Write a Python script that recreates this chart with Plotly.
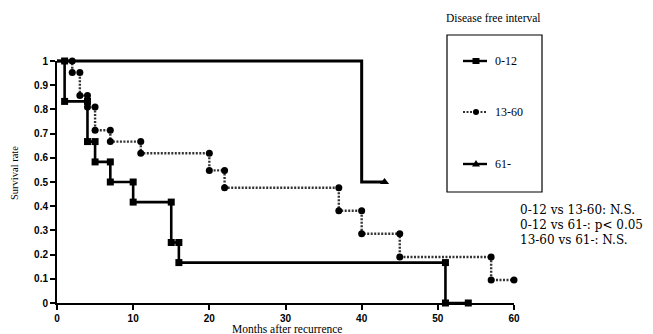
import plotly.graph_objects as go

# ---- data (Kaplan-Meier step vertices) ----
g1_name = "0-12"
g1_x = [0, 1, 1, 4, 4, 5, 5, 7, 7, 10, 10, 15, 15, 16, 16, 51, 51, 54]
g1_y = [1, 1, 0.833, 0.833, 0.667, 0.667, 0.583, 0.583, 0.5, 0.5, 0.417, 0.417, 0.25, 0.25, 0.167, 0.167, 0, 0]

g2_name = "13-60"
g2_x = [0, 2, 2, 3, 3, 4, 4, 5, 5, 7, 7, 11, 11, 20, 20, 22, 22, 37, 37, 40, 40, 45, 45, 57, 57, 60]
g2_y = [1, 1, 0.952, 0.952, 0.857, 0.857, 0.81, 0.81, 0.714, 0.714, 0.667, 0.667, 0.619, 0.619, 0.548, 0.548,
        0.476, 0.476, 0.381, 0.381, 0.286, 0.286, 0.19, 0.19, 0.095, 0.095]

g3_name = "61-"
g3_x = [0, 40, 40, 43]
g3_y = [1, 1, 0.5, 0.5]

x_ticks = [0, 10, 20, 30, 40, 50, 60]
y_ticks = [0, 0.1, 0.2, 0.3, 0.4, 0.5, 0.6, 0.7, 0.8, 0.9, 1]
y_tick_text = ["0", "0.1", "0.2", "0.3", "0.4", "0.5", "0.6", "0.7", "0.8", "0.9", "1"]

stats_lines = ["0-12 vs 13-60: N.S.", "0-12 vs 61-: p< 0.05", "13-60 vs 61-: N.S."]

# ---- layout geometry (reference pixels; page body adds an 8px offset) ----
OFF = 8
W, H = 653 - OFF, 334 - OFF
L, R, T, B = 57, 514, 61, 303      # axes area (data 0..60 / 0..1)
E = 5                              # extra room so edge lines are not clipped
PL, PR, PT, PB = L - E, R + E, T - E, B + E   # data-subplot area


def px(xp):
    return (xp - PL) / (PR - PL)


def py(yp):
    return (PB - yp) / (PB - PT)


dx = E * 60 / (R - L)
dy = E * 1 / (B - T)

fig = go.Figure()
# invisible anchor trace for the visible axes subplot
fig.add_trace(go.Scatter(x=[0], y=[0], mode="markers", marker=dict(opacity=0), hoverinfo="skip",
                         showlegend=False, xaxis="x", yaxis="y"))

common = dict(showlegend=False, cliponaxis=False, xaxis="x2", yaxis="y2")
fig.add_trace(go.Scatter(x=g2_x, y=g2_y, mode="lines",
                         line=dict(color="#333333", width=2.4, dash="2px,1.5px"), **common))
fig.add_trace(go.Scatter(x=g2_x[1:], y=g2_y[1:], mode="markers",
                         marker=dict(symbol="circle", size=7, color="black"), **common))
fig.add_trace(go.Scatter(x=g1_x, y=g1_y, mode="lines", line=dict(color="black", width=2.6), **common))
fig.add_trace(go.Scatter(x=g1_x[1:], y=g1_y[1:], mode="markers",
                         marker=dict(symbol="square", size=7, color="black"), **common))
fig.add_trace(go.Scatter(x=g3_x, y=g3_y, mode="lines", line=dict(color="black", width=3), **common))
fig.add_trace(go.Scatter(x=g3_x[-1:], y=g3_y[-1:], mode="markers",
                         marker=dict(symbol="triangle-up", size=8, color="black"), **common))

shapes = []
annotations = []

# legend box
shapes.append(dict(type="rect", xref="paper", yref="paper",
                   x0=px(447), x1=px(542), y0=py(192), y1=py(35),
                   line=dict(color="black", width=1.2), fillcolor="rgba(0,0,0,0)"))
annotations.append(dict(xref="paper", yref="paper", x=px(493), y=py(18), text="Disease free interval",
                        showarrow=False, font=dict(family="Liberation Serif", size=11.5, color="black"),
                        xanchor="center", yanchor="middle"))
leg_items = [(g1_name, 61, "solid", "square"), (g2_name, 112, "dot", "circle"), (g3_name, 164, "solid", "triangle")]
for name, yy, dash, sym in leg_items:
    shapes.append(dict(type="line", xref="paper", yref="paper", x0=px(463), x1=px(487), y0=py(yy), y1=py(yy),
                       line=dict(color="black" if dash == "solid" else "#333333",
                                 width=2.4 if dash == "solid" else 2,
                                 dash="solid" if dash == "solid" else "2px,1.5px")))
    cx = 476
    if sym == "square":
        shapes.append(dict(type="rect", xref="paper", yref="paper", x0=px(cx - 3.5), x1=px(cx + 3.5),
                           y0=py(yy + 3), y1=py(yy - 3), fillcolor="black", line=dict(width=0)))
    elif sym == "circle":
        shapes.append(dict(type="circle", xref="paper", yref="paper", x0=px(cx - 3), x1=px(cx + 3),
                           y0=py(yy + 3), y1=py(yy - 3), fillcolor="black", line=dict(width=0)))
    else:
        x0, x1, xm = px(cx - 4), px(cx + 4), px(cx)
        ya, yb = py(yy + 2.5), py(yy - 4)
        shapes.append(dict(type="path", xref="paper", yref="paper",
                           path=f"M {x0} {ya} L {x1} {ya} L {xm} {yb} Z", fillcolor="black", line=dict(width=0)))
    annotations.append(dict(xref="paper", yref="paper", x=px(493), y=py(yy), text=name, showarrow=False,
                            font=dict(family="Liberation Serif", size=12, color="black"),
                            xanchor="left", yanchor="middle"))

for i, s in enumerate(stats_lines):
    annotations.append(dict(xref="paper", yref="paper", x=px(518), y=py(210 + 15 * i), text=s, showarrow=False,
                            font=dict(family="DejaVu Serif", size=12, color="black"),
                            xanchor="left", yanchor="middle"))

annotations.append(dict(xref="paper", yref="paper", x=px(14), y=py(173), text="Survival rate", showarrow=False,
                        textangle=-90, font=dict(family="Liberation Serif", size=10.5, color="black"),
                        xanchor="center", yanchor="middle"))
annotations.append(dict(xref="paper", yref="paper", x=px(287), y=py(328.5), text="Months after recurrence",
                        showarrow=False, font=dict(family="Liberation Serif", size=11.5, color="black"),
                        xanchor="center", yanchor="middle"))

tickfont = dict(family="Liberation Sans", size=10, color="black", weight="bold")

fig.update_layout(
    width=W, height=H,
    margin=dict(l=PL - OFF, r=W - (PR - OFF), t=PT - OFF, b=H - (PB - OFF), pad=0, autoexpand=False),
    paper_bgcolor="white", plot_bgcolor="rgba(0,0,0,0)",
    shapes=shapes, annotations=annotations,
    xaxis=dict(domain=[px(L), px(R)], anchor="y", range=[0, 60], tickvals=x_ticks, showgrid=False,
               zeroline=False, showline=True, linecolor="black", linewidth=2, ticks="outside", ticklen=5,
               tickwidth=1.5, tickcolor="black", tickfont=tickfont, fixedrange=True, automargin=False),
    yaxis=dict(domain=[py(B), py(T)], anchor="x", range=[0, 1], tickvals=y_ticks, ticktext=y_tick_text,
               showgrid=False, zeroline=False, showline=True, linecolor="black", linewidth=2,
               ticks="outside", ticklen=5, tickwidth=1.5, tickcolor="black", tickfont=tickfont,
               fixedrange=True, automargin=False),
    xaxis2=dict(domain=[0, 1], anchor="y2", range=[-dx, 60 + dx], visible=False, fixedrange=True),
    yaxis2=dict(domain=[0, 1], anchor="x2", range=[-dy, 1 + dy], visible=False, fixedrange=True),
)

fig.write_html("out.html")
